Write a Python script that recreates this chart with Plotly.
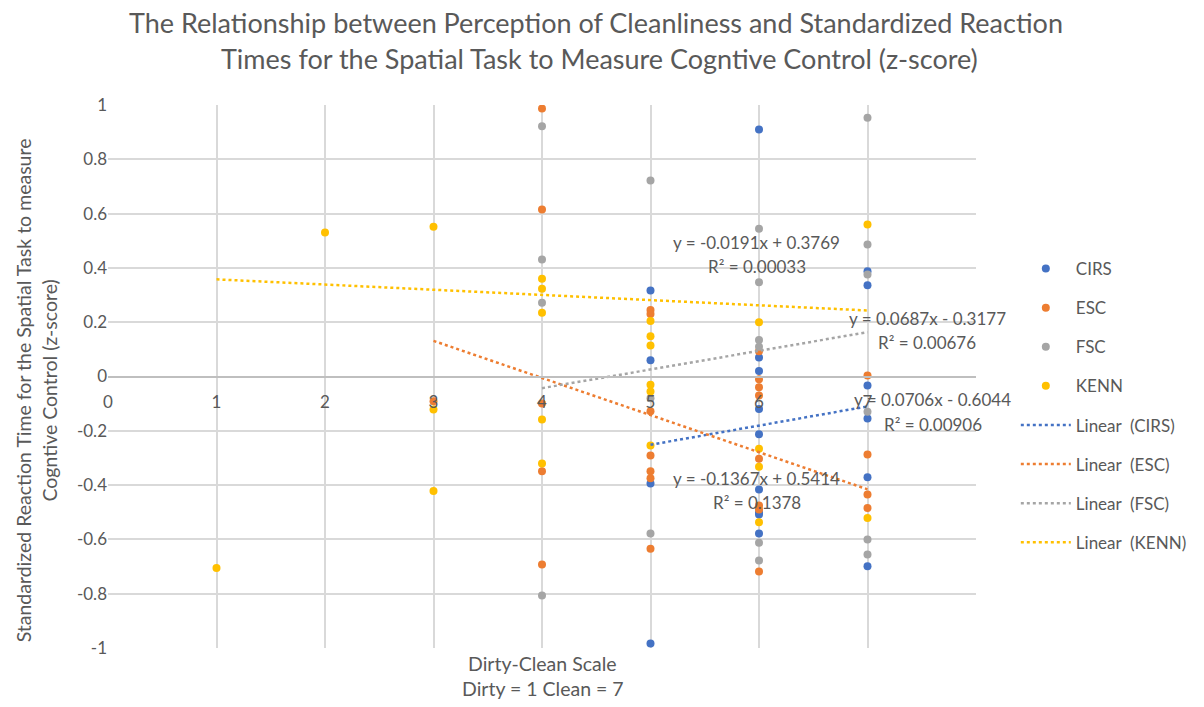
import plotly.graph_objects as go

# Cleanliness rating (1 = dirty, 7 = clean) and standardized reaction times per school
cirs_x = [5, 5, 5, 5, 6, 6, 6, 6, 6, 6, 6, 6, 6, 7, 7, 7, 7, 7, 7]
cirs_y = [0.317, 0.06, -0.394, -0.983,
          0.91, 0.07, 0.02, -0.12, -0.213, -0.416, -0.5, -0.508, -0.578,
          0.388, 0.336, -0.033, -0.155, -0.371, -0.699]

esc_x = [3, 4, 4, 4, 4, 4, 5, 5, 5, 5, 5, 5, 5,
         6, 6, 6, 6, 6, 6, 6, 6, 7, 7, 7, 7]
esc_y = [-0.091,
         0.987, 0.615, -0.099, -0.349, -0.692,
         0.245, 0.23, -0.128, -0.291, -0.349, -0.375, -0.634,
         0.093, -0.01, -0.04, -0.07, -0.303, -0.475, -0.49, -0.718,
         0.004, -0.287, -0.435, -0.484]

fsc_x = [4, 4, 4, 4, 5, 5, 5, 6, 6, 6, 6, 6, 6, 7, 7, 7, 7, 7, 7]
fsc_y = [0.922, 0.431, 0.272, -0.807,
         0.722, -0.08, -0.578,
         0.544, 0.347, 0.134, 0.11, -0.612, -0.678,
         0.953, 0.486, 0.376, -0.13, -0.6, -0.656]

kenn_x = [1, 2, 3, 3, 3, 4, 4, 4, 4, 4, 5, 5, 5, 5, 5, 5, 6, 6, 6, 6, 7, 7]
kenn_y = [-0.705, 0.53, 0.552, -0.122, -0.422,
          0.36, 0.323, 0.235, -0.158, -0.32,
          0.204, 0.148, 0.114, -0.03, -0.055, -0.254,
          0.2, -0.266, -0.332, -0.537,
          0.56, -0.521]

# Linear trendlines: slope, intercept, R squared and the fitted x span
series_names = ["CIRS", "ESC", "FSC", "KENN"]
slopes = [0.0706, -0.1367, 0.0687, -0.0191]
intercepts = [-0.6044, 0.5414, -0.3177, 0.3769]
r_squared = ["0.00906", "0.1378", "0.00676", "0.00033"]
fit_start = [5, 3, 4, 1]
fit_end = [7, 7, 7, 7]

x_tick_vals = [0, 1, 2, 3, 4, 5, 6, 7, 8]
x_tick_text = ["0", "1", "2", "3", "4", "5", "6", "7", ""]
y_tick_vals = [1, 0.8, 0.6, 0.4, 0.2, 0, -0.2, -0.4, -0.6, -0.8, -1]
y_tick_text = ["1", "0.8", "0.6", "0.4", "0.2", "0", "-0.2", "-0.4", "-0.6", "-0.8", "-1"]

colors = ["#4472C4", "#ED7D31", "#A5A5A5", "#FFC000"]
text_gray = "#595959"
font_family = "Lato, 'Open Sans', sans-serif"

xs = [cirs_x, esc_x, fsc_x, kenn_x]
ys = [cirs_y, esc_y, fsc_y, kenn_y]

# plot area in pixels, used to place paper-anchored text
L, R, T, B = 108, 980, 105, 648


def px_x(p):
    return (p - L) / (R - L)


def px_y(p):
    return (B - p) / (B - T)


fig = go.Figure()

for i, name in enumerate(series_names):
    fig.add_trace(go.Scatter(
        x=xs[i], y=ys[i], mode="markers", name=name,
        marker=dict(color=colors[i], size=8),
        legendgroup=name, legendrank=i + 1,
    ))

for i, name in enumerate(series_names):
    fx = [fit_start[i], fit_end[i]]
    fy = [slopes[i] * v + intercepts[i] for v in fx]
    fig.add_trace(go.Scatter(
        x=fx, y=fy, mode="lines", name=f"Linear  ({name})",
        line=dict(color=colors[i], width=2.5, dash="dot"),
        legendgroup="lin" + name, legendrank=10 + i,
    ))

# Trendline equation labels: series index -> (x, y) of the equation line
label_pos = {0: (7.6, -0.085), 1: (5.98, -0.375), 2: (7.55, 0.215), 3: (5.98, 0.494)}
for i, (lx, ly) in label_pos.items():
    sign = "+" if intercepts[i] >= 0 else "-"
    eq = f"y = {slopes[i]:.4f}x {sign} {abs(intercepts[i]):.4f}"
    fig.add_annotation(x=lx, y=ly, text=eq, showarrow=False,
                       xanchor="center", yanchor="middle",
                       font=dict(size=17, color=text_gray, family=font_family))
    fig.add_annotation(x=lx, y=ly - 0.09, text=f"R² = {r_squared[i]}", showarrow=False,
                       xanchor="center", yanchor="middle",
                       font=dict(size=17, color=text_gray, family=font_family))


def paper_text(x, y, text, size, angle=0):
    fig.add_annotation(xref="paper", yref="paper", x=px_x(x), y=px_y(y), text=text,
                       showarrow=False, xanchor="center", yanchor="middle",
                       textangle=angle,
                       font=dict(size=size, color=text_gray, family=font_family))


# Title
paper_text(598, 22, "The Relationship between Perception of Cleanliness and Standardized Reaction", 27)
paper_text(602, 58, "Times for the Spatial Task to Measure Cogntive Control (z-score)", 27)

# Axis titles
paper_text(545, 663, "Dirty-Clean Scale", 19.5)
paper_text(545, 688, "Dirty = 1 Clean = 7", 19.5)
paper_text(36, 390, "Standardized Reaction Time for the Spatial Task to measure<br>Cogntive Control (z-score)",
           19.5, angle=-90)

fig.update_layout(
    width=1204, height=707,
    margin=dict(l=L, r=1204 - R, t=T, b=707 - B),
    paper_bgcolor="white", plot_bgcolor="white",
    font=dict(family=font_family, color=text_gray, size=17),
    showlegend=True,
    legend=dict(x=px_x(1020), y=px_y(251), xanchor="left", yanchor="top",
                traceorder="grouped", tracegroupgap=14, itemwidth=50,
                font=dict(size=17, color=text_gray, family=font_family),
                bgcolor="rgba(0,0,0,0)"),
    xaxis=dict(range=[0, 8], tickvals=x_tick_vals, ticktext=x_tick_text,
               showgrid=True, gridcolor="#D9D9D9", gridwidth=1.5,
               zeroline=False, showline=True, linecolor="#BFBFBF", linewidth=1.5,
               anchor="free", position=0.5, ticks="", ticklabelstandoff=10,
               tickfont=dict(size=17, color=text_gray)),
    yaxis=dict(range=[-1, 1], tickvals=y_tick_vals, ticktext=y_tick_text,
               showgrid=True, gridcolor="#D9D9D9", gridwidth=1.5,
               zeroline=False, showline=False, ticks="",
               tickfont=dict(size=17, color=text_gray)),
)

fig.write_html("out.html")
